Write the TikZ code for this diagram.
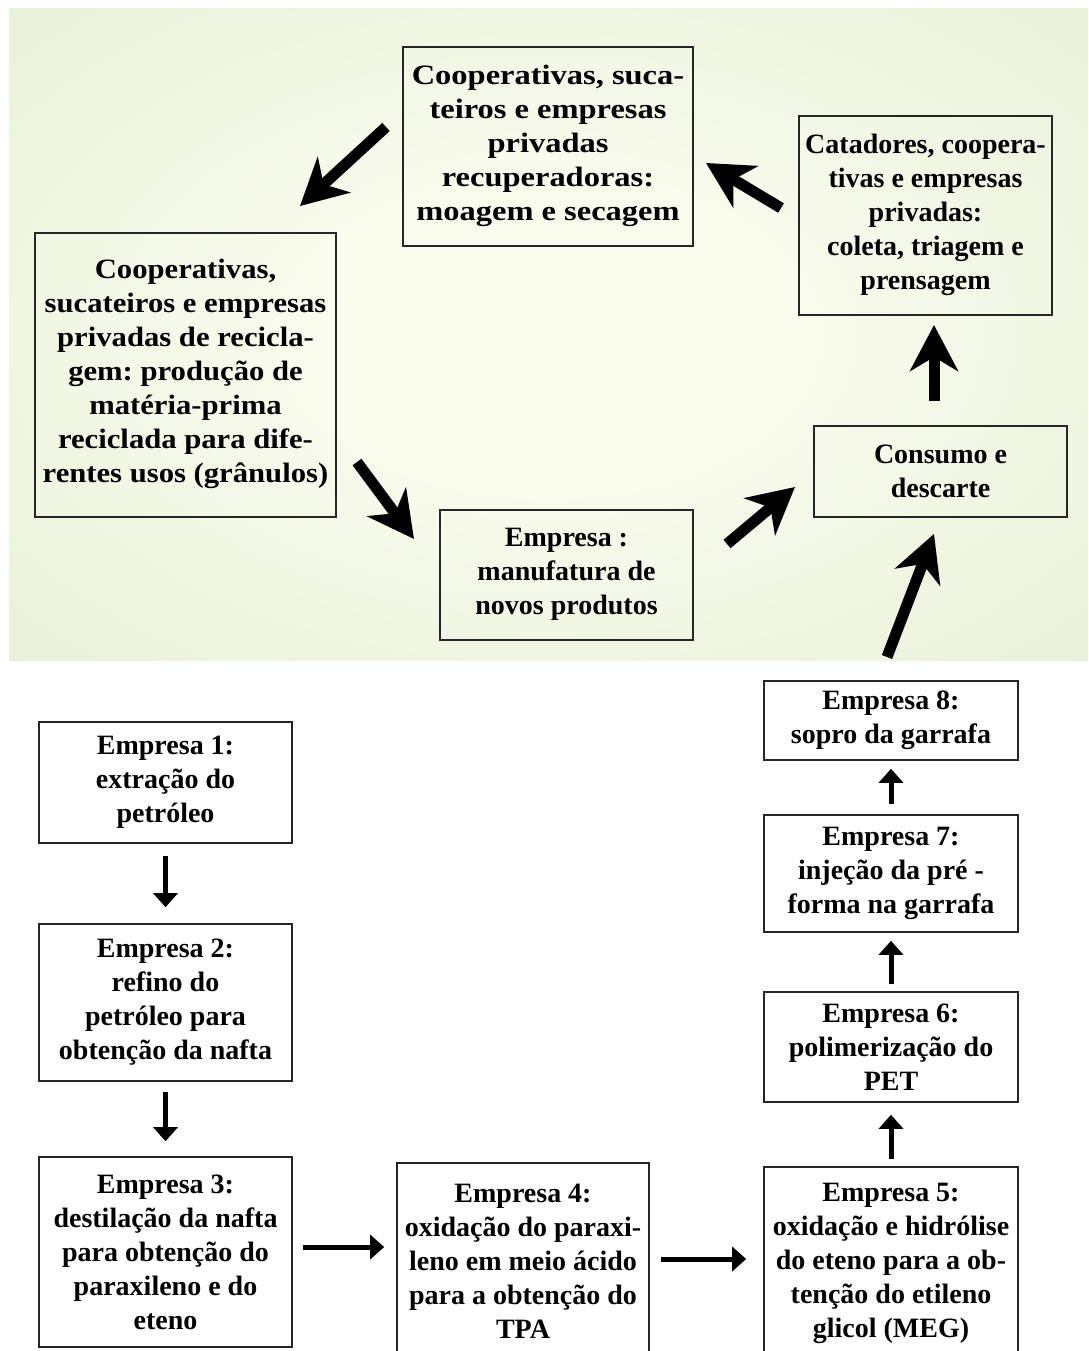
\documentclass[tikz,border=0pt]{standalone}
\usepackage{fontspec}
\setmainfont{Liberation Serif}
\newfontfamily\stretchA[FakeStretch=1.16]{Liberation Serif}
\newfontfamily\stretchB[FakeStretch=1.095]{Liberation Serif}
\usetikzlibrary{arrows.meta}
\definecolor{bginner}{HTML}{F9FBEC}
\definecolor{bgouter}{HTML}{DCE9CB}
\pgfdeclareradialshading{softradial}{\pgfpoint{0bp}{0bp}}{color(0bp)=(bginner); color(12bp)=(bginner); color(55bp)=(bgouter); color(72bp)=(bgouter)}
\newcommand{\liftpad}{\\[-26pt]\mbox{}}
\tikzset{
  box/.style={draw=black!85, line width=1.6pt, inner sep=0pt, align=center,
    font=\bfseries\fontsize{28}{34}\selectfont},
  bigarrow/.style={line width=11pt, -{Stealth[length=46pt,width=48pt,inset=14pt]}},
  smallarrow/.style={line width=5pt, -{Triangle[length=14pt,width=24pt]}},
}
\begin{document}
\frenchspacing
\begin{tikzpicture}[x=1pt,y=-1pt]
\useasboundingbox (0,0) rectangle (1088,1351);
\fill[white] (0,0) rectangle (1088,1351);
\shade[shading=softradial] (9,9) rectangle (1088,660);

% top cycle
\node[box, font=\stretchA\bfseries\fontsize{28}{34}\selectfont, minimum width=290pt, minimum height=199pt] (rec) at (548,146.5)
  {Cooperativas, suca-\\teiros e empresas\\privadas\\recuperadoras:\\moagem e secagem\liftpad};
\node[box, minimum width=253pt, minimum height=199pt] (cat) at (925.5,215.5)
  {Catadores, coopera-\\tivas e empresas\\privadas:\\coleta, triagem e\\prensagem\liftpad};
\node[box, font=\stretchB\bfseries\fontsize{28}{34}\selectfont, minimum width=301pt, minimum height=284pt] (gran) at (185.5,375)
  {Cooperativas,\\sucateiros e empresas\\privadas de recicla-\\gem: produção de\\matéria-prima\\reciclada para dife-\\rentes usos (grânulos)\liftpad};
\node[box, minimum width=253pt, minimum height=91pt] (cons) at (940.5,471.5)
  {Consumo e\\descarte};
\node[box, minimum width=253pt, minimum height=130pt] (emp) at (566.5,575)
  {Empresa :\\manufatura de\\novos produtos\liftpad};

\coordinate (a1s) at (386,127);  \coordinate (a1e) at (300,206);
\coordinate (a2s) at (781,208);  \coordinate (a2e) at (706,163);
\coordinate (a3s) at (934,401);  \coordinate (a3e) at (934,325);
\coordinate (a4s) at (357,462);  \coordinate (a4e) at (414,539);
\coordinate (a5s) at (727,544);  \coordinate (a5e) at (795,487);
\coordinate (a6s) at (887,657);  \coordinate (a6e) at (934,534);
\draw[bigarrow] (a1s) -- (a1e);
\draw[bigarrow] (a2s) -- (a2e);
\draw[bigarrow] (a3s) -- (a3e);
\draw[bigarrow] (a4s) -- (a4e);
\draw[bigarrow] (a5s) -- (a5e);
\draw[bigarrow] (a6s) -- (a6e);

% production chain
\node[box, fill=white, minimum width=253pt, minimum height=121pt] (e1) at (165.5,782.5)
  {Empresa 1:\\extração do\\petróleo};
\node[box, fill=white, minimum width=253pt, minimum height=157pt] (e2) at (165.5,1002.5)
  {Empresa 2:\\refino do\\petróleo para\\obtenção da nafta};
\node[box, fill=white, minimum width=253pt, minimum height=190pt] (e3) at (165.5,1252)
  {Empresa 3:\\destilação da nafta\\para obtenção do\\paraxileno e do\\eteno};
\node[box, fill=white, minimum width=252pt, minimum height=196pt] (e4) at (523,1261)
  {Empresa 4:\\oxidação do paraxi-\\leno em meio ácido\\para a obtenção do\\TPA};
\node[box, fill=white, minimum width=254pt, minimum height=192pt] (e5) at (891,1263)
  {Empresa 5:\\oxidação e hidrólise\\do eteno para a ob-\\tenção do etileno\\glicol (MEG)};
\node[box, fill=white, minimum width=254pt, minimum height=110pt] (e6) at (891,1047)
  {Empresa 6:\\polimerização do\\PET};
\node[box, fill=white, minimum width=254pt, minimum height=117pt] (e7) at (891,873.5)
  {Empresa 7:\\injeção da pré -\\forma na garrafa};
\node[box, fill=white, minimum width=254pt, minimum height=79pt] (e8) at (891,720.5)
  {Empresa 8:\\sopro da garrafa};

\draw[smallarrow, shorten <=12pt, shorten >=16pt] (e1.south) -- (e2.north);
\draw[smallarrow, shorten <=10pt, shorten >=15pt] (e2.south) -- (e3.north);
\draw[smallarrow, shorten <=10pt, shorten >=12pt] (e3.east |- 0,1247) -- (e4.west |- 0,1247);
\draw[smallarrow, shorten <=11pt, shorten >=17pt] (e4.east |- 0,1259) -- (e5.west |- 0,1259);
\draw[smallarrow, shorten <=7pt, shorten >=12pt] (e5.north) -- (e6.south);
\draw[smallarrow, shorten <=7pt, shorten >=8pt] (e6.north) -- (e7.south);
\draw[smallarrow, shorten <=10pt, shorten >=8pt] (e7.north) -- (e8.south);
\end{tikzpicture}
\end{document}
